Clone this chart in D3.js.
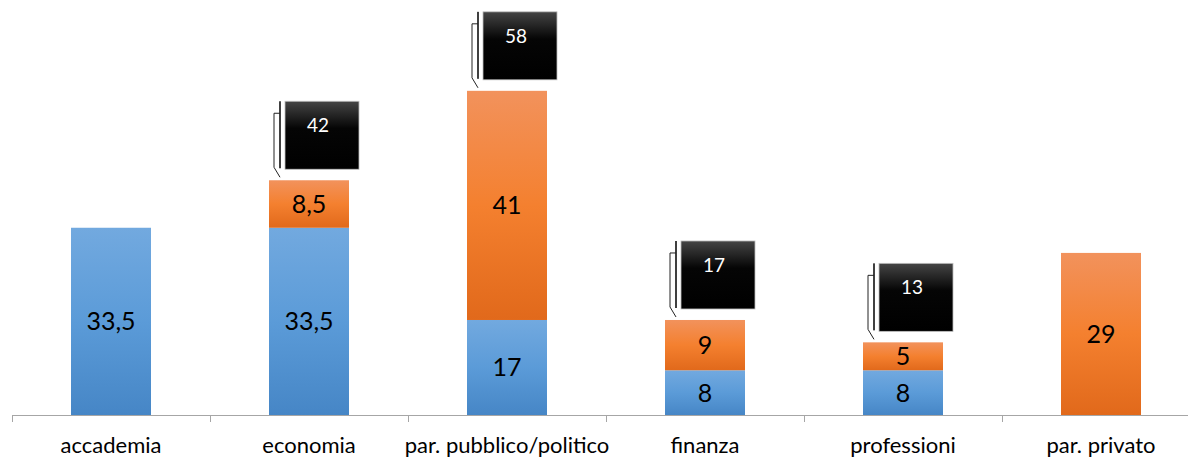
<!DOCTYPE html>
<html>
<head>
<meta charset="utf-8">
<style>
  body { margin: 0; background: #fff; }
  svg { display: block; font-family: Lato, "Open Sans", sans-serif; }
  .axis path, .axis line { stroke: #a6a6a6; }
</style>
</head>
<body>
<script src="https://cdn.jsdelivr.net/npm/d3@7"></script>
<script>
// data
var categories = ["accademia", "economia", "par. pubblico/politico", "finanza", "professioni", "par. privato"];
var blueValues = [33.5, 33.5, 17, 8, 8, 0];
var orangeValues = [0, 8.5, 41, 9, 5, 29];

var width = 1188, height = 457;
var svg = d3.select("body").append("svg")
    .attr("width", width)
    .attr("height", height);

var defs = svg.append("defs");
function grad(id, stops) {
  var g = defs.append("linearGradient").attr("id", id)
      .attr("x1", 0).attr("y1", 0).attr("x2", 0).attr("y2", 1);
  stops.forEach(function(s) {
    g.append("stop").attr("offset", s[0]).attr("stop-color", s[1]);
  });
}
grad("gBlue", [[0, "#72a9df"], [0.5, "#5b9bd8"], [1, "#4686c6"]]);
grad("gOrange", [[0, "#f2925c"], [0.5, "#f4802f"], [1, "#e1691b"]]);
grad("gBox", [[0, "#454545"], [0.4, "#050505"], [1, "#000"]]);

// scales
var x = d3.scaleBand()
    .domain(categories)
    .range([12, 12 + 198 * categories.length])
    .paddingInner(0.596)
    .paddingOuter(0.298);

var y = d3.scaleLinear()
    .domain([0, 74.25])
    .range([415, 0]);

var rows = categories.map(function(c, i) {
  return { cat: c, blue: blueValues[i], orange: orangeValues[i] };
});
var stack = d3.stack().keys(["blue", "orange"])(rows);
var fills = { blue: "url(#gBlue)", orange: "url(#gOrange)" };

function fmt(v) { return String(v).replace(".", ","); }

// bars
stack.forEach(function(layer) {
  var g = svg.append("g");
  var segs = layer.filter(function(d) { return d[1] - d[0] > 0; });
  g.selectAll("rect").data(segs).enter().append("rect")
      .attr("x", function(d) { return x(d.data.cat); })
      .attr("width", x.bandwidth())
      .attr("y", function(d) { return y(d[1]); })
      .attr("height", function(d) { return y(d[0]) - y(d[1]); })
      .attr("fill", fills[layer.key]);
  g.selectAll("text").data(segs).enter().append("text")
      .attr("x", function(d) { return x(d.data.cat) + x.bandwidth() / 2; })
      .attr("y", function(d) { return (y(d[0]) + y(d[1])) / 2; })
      .attr("dy", "0.36em")
      .attr("text-anchor", "middle")
      .attr("font-size", 25)
      .attr("fill", "#000")
      .text(function(d) { return fmt(d[1] - d[0]); });
});

// x axis
var axisG = svg.append("g").attr("class", "axis")
    .attr("transform", "translate(0,415)");
axisG.append("line")
    .attr("x1", x.range()[0]).attr("x2", width)
    .attr("y1", 0.5).attr("y2", 0.5);
var step = x.step();
axisG.selectAll(".tick").data(d3.range(categories.length + 1)).enter().append("line")
    .attr("class", "tick")
    .attr("x1", function(i) { return Math.round(x.range()[0] + i * step) + 0.5; })
    .attr("x2", function(i) { return Math.round(x.range()[0] + i * step) + 0.5; })
    .attr("y1", 0).attr("y2", 7);
axisG.selectAll("text").data(categories).enter().append("text")
    .attr("x", function(c) { return x(c) + x.bandwidth() / 2; })
    .attr("y", 38)
    .attr("text-anchor", "middle")
    .attr("font-size", 22)
    .attr("fill", "#000")
    .text(function(c) { return c; });

// total callouts on stacked bars
var totals = rows.filter(function(r) { return r.blue > 0 && r.orange > 0; });
var boxW = 74, boxH = 68;
var callouts = svg.selectAll(".callout").data(totals).enter().append("g")
    .attr("class", "callout")
    .attr("transform", function(r) {
      var bx = x(r.cat) + 16;
      var by = y(r.blue + r.orange) - 11 - boxH;
      return "translate(" + bx + "," + by + ")";
    });
callouts.append("rect")
    .attr("width", boxW).attr("height", boxH)
    .attr("fill", "url(#gBox)")
    .attr("stroke", "#bfbfbf").attr("stroke-width", 0.8);
callouts.append("line")
    .attr("x1", -5).attr("x2", -5)
    .attr("y1", 0).attr("y2", boxH - 1)
    .attr("stroke", "#404040").attr("stroke-width", 2);
callouts.append("path")
    .attr("d", "M-5,12 H-11 V" + (boxH - 2) + " L-5," + (boxH + 8))
    .attr("fill", "none")
    .attr("stroke", "#222").attr("stroke-width", 1);
callouts.append("text")
    .attr("x", boxW / 2 - 4)
    .attr("y", 31)
    .attr("text-anchor", "middle")
    .attr("font-size", 19)
    .attr("fill", "#fff")
    .text(function(r) { return fmt(r.blue + r.orange); });
</script>
</body>
</html>
